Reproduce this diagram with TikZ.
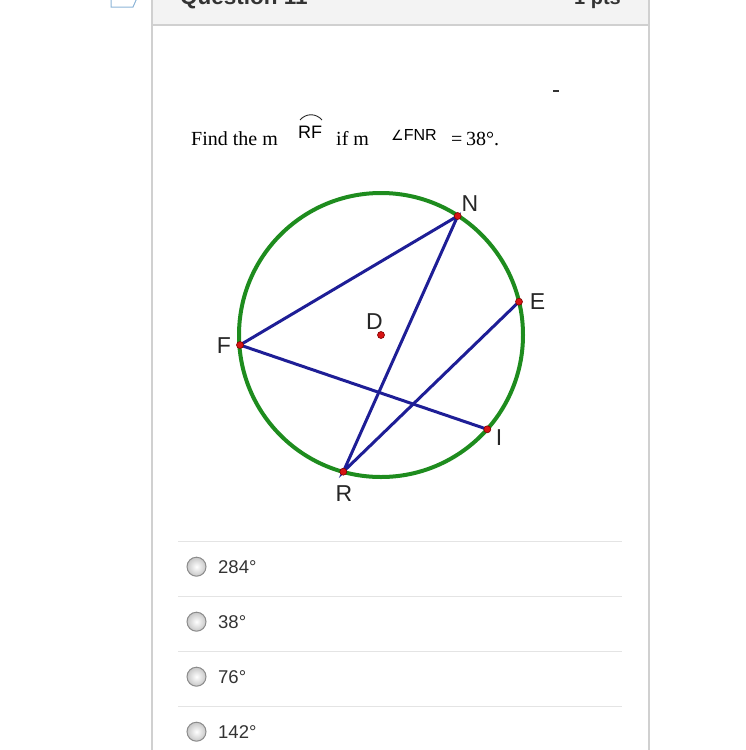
\documentclass[tikz,border=0pt]{standalone}
\usepackage{fontspec}
\setmainfont{Liberation Serif}
\setsansfont{Liberation Sans}
\newfontfamily\dejavu{DejaVu Sans}
\definecolor{circgreen}{RGB}{30,140,30}
\definecolor{chordblue}{RGB}{30,30,150}
\definecolor{dotred}{RGB}{215,20,20}
\definecolor{panelborder}{RGB}{208,208,208}
\definecolor{headfill}{RGB}{243,243,243}
\definecolor{sepline}{RGB}{228,228,228}
\definecolor{txtgray}{RGB}{51,51,51}
\definecolor{iconblue}{RGB}{140,180,215}
\tikzset{
  circline/.style={draw=circgreen, line width=4pt},
  chord/.style={draw=chordblue, line width=3pt},
  ptdot/.style={circle, fill=dotred, draw=red!50!black, line width=0.6pt, inner sep=0pt, minimum size=7pt},
  ptlabel/.style={font=\sffamily\fontsize{23}{23}\selectfont, text=black!85, inner sep=0pt},
  radio/.style={draw=black!45, line width=1pt, inner color=white, outer color=black!22},
  opttext/.style={font=\sffamily\fontsize{18.5}{19}\selectfont, text=txtgray, anchor=west, inner sep=0pt},
  serif/.style={font=\fontsize{20}{20}\selectfont, inner sep=0pt, anchor=base west},
}
\begin{document}
\begin{tikzpicture}[x=1pt,y=-1pt]
\useasboundingbox (0,0) rectangle (746,750);
\clip (0,0) rectangle (746,750);
% header
\fill[headfill] (152,-5) rectangle (649,25);
\draw[panelborder, line width=1.6pt] (152,25) -- (649,25);
\draw[panelborder, line width=1.6pt] (152,-5) -- (152,755);
\draw[panelborder, line width=1.6pt] (649,-5) -- (649,755);
\draw[iconblue, line width=1pt] (111,-2) -- (111,7) -- (133,7) -- (137,-2);
\node[anchor=base west, inner sep=0pt, font=\sffamily\bfseries\fontsize{22.5}{22}\selectfont, text=txtgray] (qtitle) at (180,4.5) {Question 11};
\node[anchor=base east, inner sep=0pt, font=\sffamily\bfseries\fontsize{20}{20}\selectfont, text=txtgray] (qpts) at (621,4.5) {1 pts};
% stray dash
\draw[black!80, line width=1.2pt] (553,91) -- (559,91);
% question text
\node[serif] (t1) at (191,145) {Find the m};
\node[inner sep=0pt, anchor=base west, font=\sffamily\fontsize{18}{18}\selectfont] (rf) at (298,138.5) {RF};
\draw[black!85, line width=0.9pt] (300,120) .. controls (306,113) and (316,113) .. (322,120);
\node[serif] (t2) at (336,145) {if m};
\node[inner sep=0pt, anchor=base west, font=\sffamily\fontsize{16}{16}\selectfont] (ang) at (391,140) {{\dejavu\fontsize{14}{14}\selectfont ∠}FNR};
\node[serif] (t3) at (451,145) {=};
\node[serif] (t4) at (466,145) {38°.};
% circle
\coordinate (D) at (381,335);
\coordinate (N) at (457.7,216);
\coordinate (E) at (519,301.7);
\coordinate (F) at (240,345);
\coordinate (I) at (487.3,429.3);
\coordinate (R) at (343.3,471.7);
\draw[circline] (D) circle[radius=142];
\draw[chord] (F) -- (N) -- (R) -- (E);
\draw[chord] (F) -- (I);
\foreach \p in {N,E,F,I,R,D} \node[ptdot] at (\p) {};
\node[ptlabel] (lN) at (470,204) {N};
\node[ptlabel] (lE) at (537.5,302) {E};
\node[ptlabel] (lD) at (374.5,321.7) {D};
\node[ptlabel] (lF) at (224,346) {F};
\node[ptlabel] (lI) at (499,437.5) {I};
\node[ptlabel] (lR) at (344,494) {R};
% options
\foreach \yy in {541.7,596.7,651.7,706.7}
  \draw[sepline, line width=1.4pt] (178,\yy) -- (622,\yy);
\foreach \yy/\txt/\nm in {566.7/284°/o1,621.7/38°/o2,676.7/76°/o3,731.7/142°/o4}{
  \shade[radio] (196.5,\yy) circle[radius=9.5];
  \node[opttext] (\nm) at (218,\yy) {\txt};
}
\end{tikzpicture}
\end{document}
